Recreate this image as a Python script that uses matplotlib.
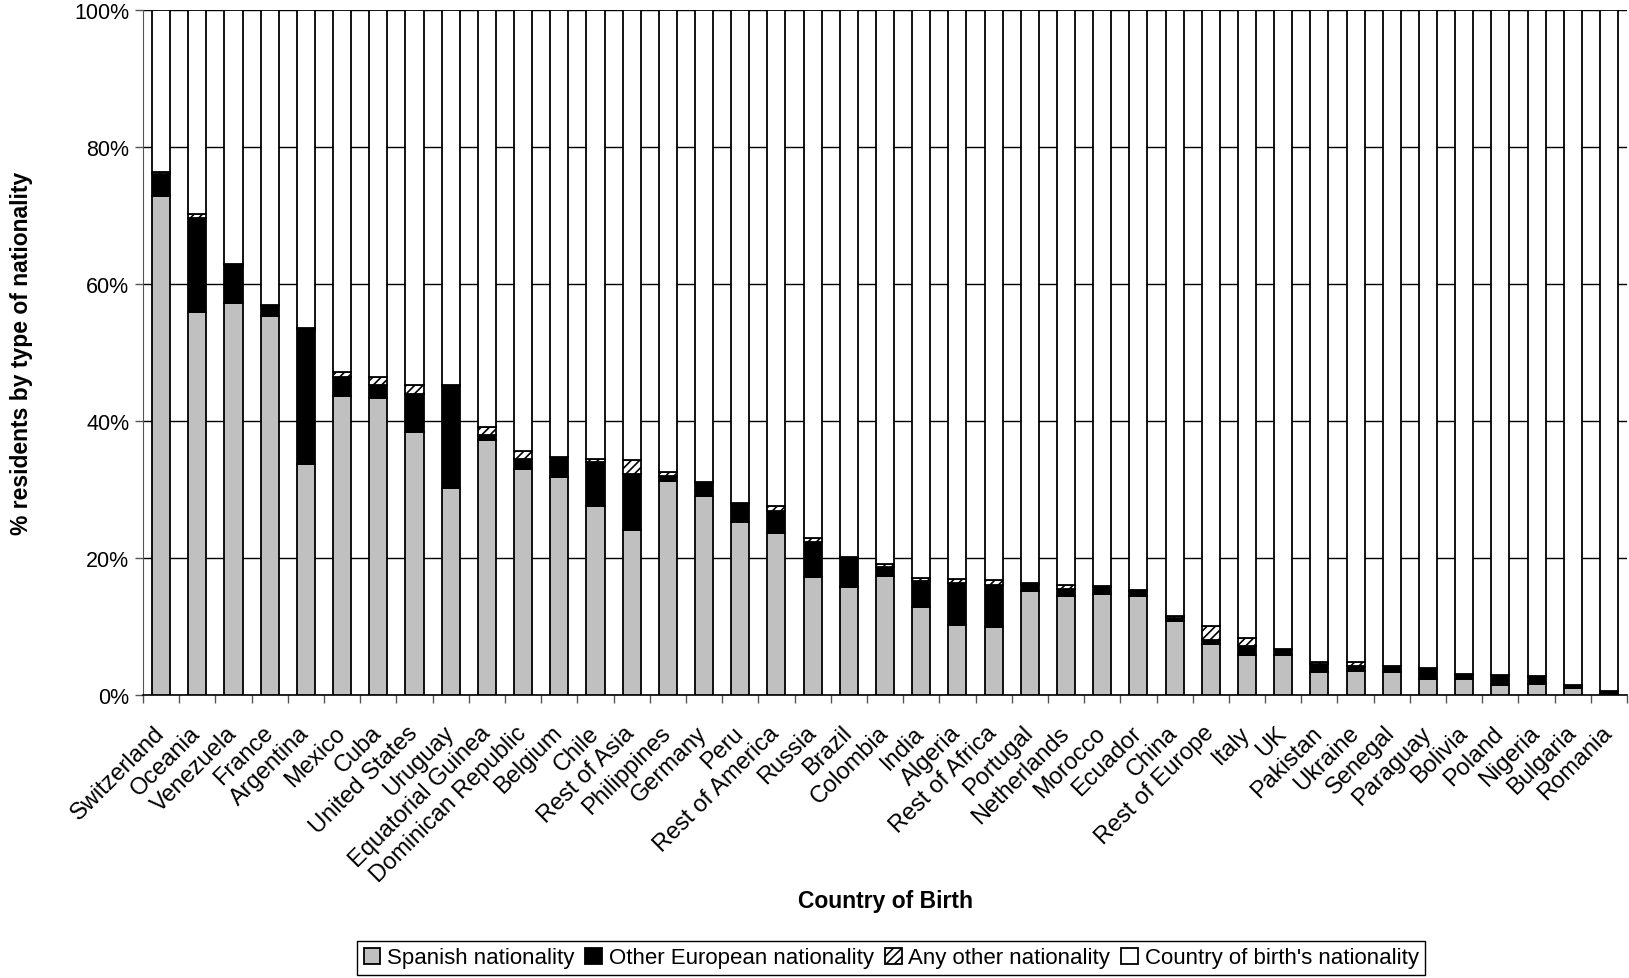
import numpy as np
import matplotlib.pyplot as plt
import matplotlib.transforms as mtransforms
from matplotlib.ticker import PercentFormatter, MultipleLocator, FixedLocator

plt.rcParams['font.family'] = ['Liberation Sans', 'DejaVu Sans']
plt.rcParams['hatch.linewidth'] = 1.2

# ── DATA (% residents) ────────────────────────────────────────────────────────
countries = ['Switzerland', 'Oceania', 'Venezuela', 'France', 'Argentina', 'Mexico',
             'Cuba', 'United States', 'Uruguay', 'Equatorial Guinea', 'Dominican Republic',
             'Belgium', 'Chile', 'Rest of Asia', 'Philippines', 'Germany', 'Peru',
             'Rest of America', 'Russia', 'Brazil', 'Colombia', 'India', 'Algeria',
             'Rest of Africa', 'Portugal', 'Netherlands', 'Morocco', 'Ecuador', 'China',
             'Rest of Europe', 'Italy', 'UK', 'Pakistan', 'Ukraine', 'Senegal', 'Paraguay',
             'Bolivia', 'Poland', 'Nigeria', 'Bulgaria', 'Romania']

spanish = [72.9, 56.0, 57.3, 55.4, 33.7, 43.7, 43.4, 38.4, 30.3, 37.3, 33.0,
           31.8, 27.6, 24.1, 31.3, 29.1, 25.3, 23.6, 17.2, 15.8, 17.4, 12.9, 10.2,
           9.9, 15.2, 14.5, 14.8, 14.5, 10.75, 7.5, 5.9, 5.9, 3.4, 3.5, 3.3, 2.4,
           2.4, 1.4, 1.6, 1.0, 0.15]

other_european = [3.2, 13.6, 5.5, 1.4, 19.7, 2.8, 1.9, 5.6, 14.8, 0.6, 1.5,
                  2.9, 6.4, 8.2, 0.7, 1.9, 2.6, 3.3, 5.1, 4.3, 1.3, 3.8, 6.1,
                  6.2, 1.0, 1.0, 1.0, 0.7, 0.45, 0.5, 1.3, 0.8, 1.2, 0.8, 0.9, 1.4,
                  0.6, 1.4, 1.1, 0.4, 0.45]

any_other = [0.2, 0.6, 0.1, 0.1, 0.2, 0.6, 1.2, 1.3, 0.1, 1.3, 1.2,
             0.0, 0.5, 2.0, 0.5, 0.1, 0.1, 0.7, 0.7, 0.0, 0.5, 0.4, 0.6,
             0.7, 0.1, 0.6, 0.1, 0.1, 0.4, 2.1, 1.1, 0.0, 0.3, 0.6, 0.1, 0.1,
             0.1, 0.1, 0.1, 0.1, 0.05]

spanish = np.array(spanish)
other_european = np.array(other_european)
any_other = np.array(any_other)
birth_country = 100 - spanish - other_european - any_other

# ── PLOT ──────────────────────────────────────────────────────────────────────
fig = plt.figure(figsize=(16.29, 9.79), dpi=100)
ax = fig.add_axes([0.0878, 0.289, 0.911, 0.6996])

x = np.arange(len(countries))
w = 0.5
kw = dict(width=w, edgecolor='black', linewidth=1.3, zorder=3)
ax.bar(x, spanish, color='#c0c0c0', label='Spanish nationality', **kw)
ax.bar(x, other_european, bottom=spanish, color='black', label='Other European nationality', **kw)
ax.bar(x, any_other, bottom=spanish + other_european, color='white', hatch='////',
       label='Any other nationality', **kw)
ax.bar(x, birth_country, bottom=spanish + other_european + any_other, color='white',
       label="Country of birth's nationality", **kw)

ax.set_xlim(-0.5, len(countries) - 0.5)
ax.set_ylim(0, 100)
ax.yaxis.set_major_locator(MultipleLocator(20))
ax.yaxis.set_major_formatter(PercentFormatter(decimals=0))
ax.grid(axis='y', color='black', linewidth=1.0, zorder=0)
ax.set_axisbelow(True)

# category boundary ticks on x axis, labels at centres
ax.xaxis.set_major_locator(FixedLocator(np.arange(len(countries) + 1) - 0.5))
ax.xaxis.set_major_formatter(plt.NullFormatter())
ax.xaxis.set_minor_locator(FixedLocator(x))
ax.set_xticklabels(countries, minor=True, rotation=45, ha='right', va='top',
                   rotation_mode='anchor', fontsize=17)
ax.tick_params(axis='x', which='minor', length=0, pad=19)
ax.tick_params(axis='x', which='major', length=6, width=1, color='#555555')
ax.tick_params(axis='y', length=6, width=1, color='#555555', labelsize=15.5, pad=4)

# nudge rotated labels a little to the left, like the original
shift = mtransforms.ScaledTranslation(-8 / 100, 0, fig.dpi_scale_trans)
for lbl in ax.xaxis.get_minorticklabels():
    lbl.set_transform(lbl.get_transform() + shift)

for s in ['top', 'right']:
    ax.spines[s].set_visible(False)
ax.spines['left'].set_color('#555555')
ax.spines['bottom'].set_color('black')
ax.spines['bottom'].set_linewidth(1.2)

ax.set_ylabel('% residents by type of nationality', fontsize=16.5, fontweight='bold')
ax.yaxis.set_label_coords(-0.074, 0.5)
fig.text(0.5433, 0.079, 'Country of Birth', fontsize=16.5, fontweight='bold',
         ha='center', va='center')

fig.legend(loc='lower center', bbox_to_anchor=(0.547, 0.003), ncol=4, fontsize=16,
           frameon=True, fancybox=False, edgecolor='black', framealpha=1,
           handlelength=0.75, handleheight=0.75, handletextpad=0.3, columnspacing=0.5,
           borderpad=0.3, borderaxespad=0)

plt.savefig('out.png', dpi=100)
